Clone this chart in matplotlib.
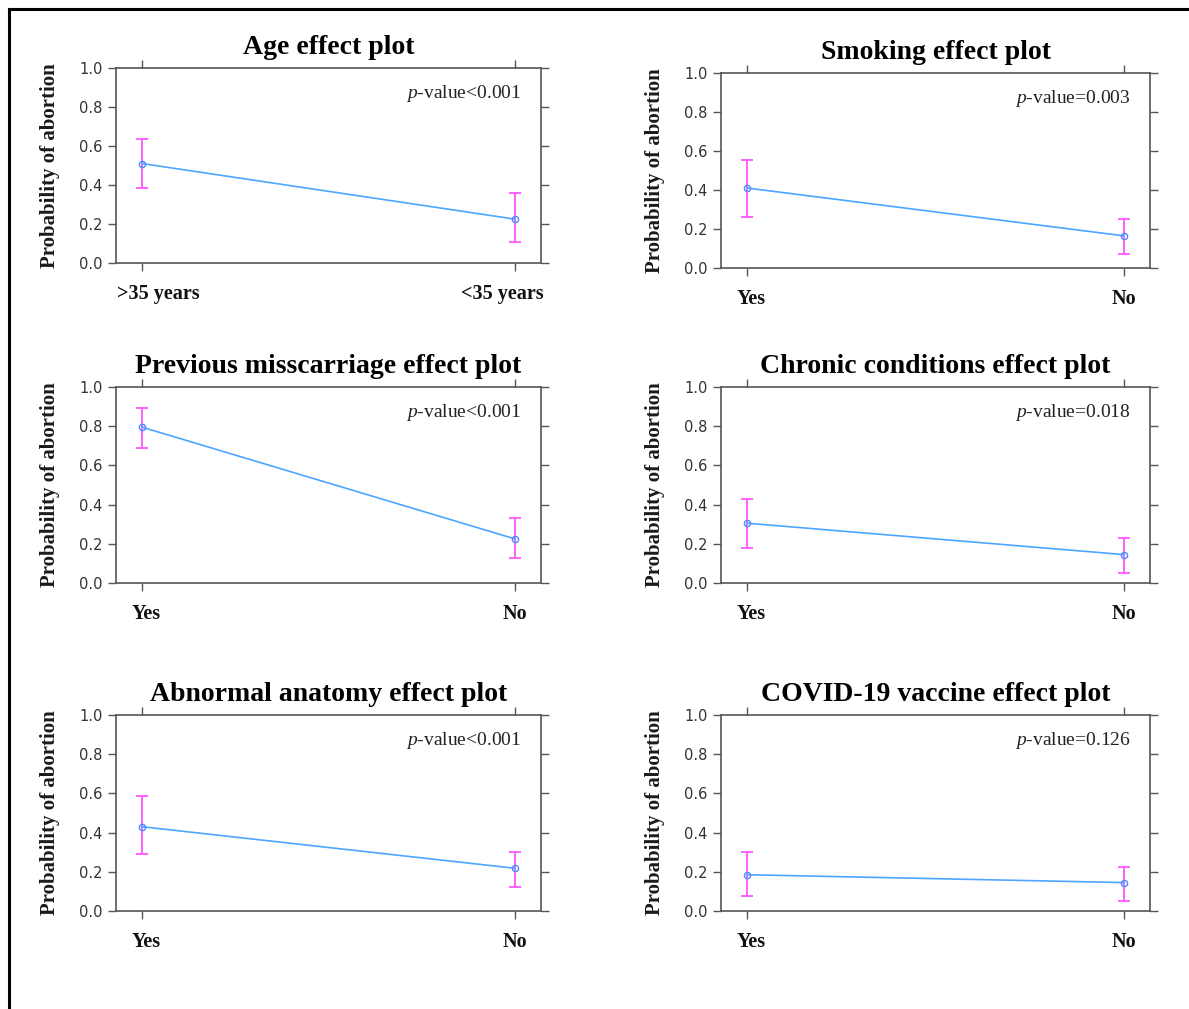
import numpy as np
import matplotlib
matplotlib.use("Agg")
import matplotlib.pyplot as plt
import matplotlib.transforms as mtrans
from matplotlib.lines import Line2D

# effect plot data: fitted probability with lower/upper CI
titles = ["Age effect plot", "Smoking effect plot",
          "Previous misscarriage effect plot", "Chronic conditions effect plot",
          "Abnormal anatomy effect plot", "COVID-19 vaccine effect plot"]
xlabels = [[">35 years", "<35 years"], ["Yes", "No"], ["Yes", "No"],
           ["Yes", "No"], ["Yes", "No"], ["Yes", "No"]]
pvalues = ["<0.001", "=0.003", "<0.001", "=0.018", "<0.001", "=0.126"]

fit = [[0.51, 0.225], [0.41, 0.165], [0.795, 0.225],
       [0.305, 0.145], [0.43, 0.218], [0.185, 0.145]]
lower = [[0.385, 0.11], [0.26, 0.07], [0.69, 0.13],
         [0.18, 0.05], [0.29, 0.125], [0.075, 0.05]]
upper = [[0.635, 0.36], [0.555, 0.25], [0.895, 0.33],
         [0.43, 0.23], [0.585, 0.30], [0.30, 0.225]]

W, H = 1189, 1009
# axes boxes in pixels: left, top, right, bottom
boxes = [(116, 68, 541, 263), (721, 73, 1150, 268),
         (116, 387, 541, 583), (721, 387, 1150, 583),
         (116, 715, 541, 911), (721, 715, 1150, 911)]

SERIF = ["Liberation Serif", "DejaVu Serif"]
GRAY = "#555555"

plt.rcParams["mathtext.fontset"] = "custom"
plt.rcParams["mathtext.it"] = "Liberation Serif:italic"
plt.rcParams["mathtext.rm"] = "Liberation Serif"

fig = plt.figure(figsize=(W / 100, H / 100), dpi=100)

for i in range(6):
    l, t, r, b = boxes[i]
    ax = fig.add_axes([l / W, 1 - b / H, (r - l) / W, (b - t) / H])
    x = np.arange(2)
    y = np.array(fit[i])
    lo = y - np.array(lower[i])
    hi = np.array(upper[i]) - y
    ax.errorbar(x, y, yerr=[lo, hi], fmt="none", ecolor="#ff55ff",
                elinewidth=1.3, capsize=4, capthick=1.3, zorder=2)
    ax.plot(x, y, color="#4da6ff", lw=1.2, marker="o", ms=4.5,
            mfc="none", mec="#4d8cff", mew=1, zorder=3)
    ax.set_xlim(-0.07, 1.07)
    ax.set_ylim(0, 1)
    ax.set_yticks(np.arange(0, 1.01, 0.2))
    ax.set_yticklabels([f"{v:.1f}" for v in np.arange(0, 1.01, 0.2)])
    ax.set_xticks(x)
    ax.set_xticklabels(xlabels[i], fontfamily=SERIF, fontweight="bold",
                       fontsize=14.5, color="#111111")
    ax.tick_params(axis="y", which="both", direction="out", length=6,
                   color=GRAY, labelcolor="#333333", labelsize=10.5,
                   right=True, width=1)
    ax.tick_params(axis="x", direction="out", length=6, color=GRAY,
                   top=True, width=1, pad=9)
    # long labels are kept inside the box, short ones sit a bit right
    shifts = [16, -13] if i == 0 else [4, 0]
    for lab, dx in zip(ax.get_xticklabels(), shifts):
        lab.set_transform(lab.get_transform() +
                          mtrans.ScaledTranslation(dx / 100, 0, fig.dpi_scale_trans))
    for s in ax.spines.values():
        s.set_color(GRAY)
        s.set_linewidth(1.2)
    ax.set_ylabel("Probability of abortion", fontfamily=SERIF,
                  fontweight="bold", fontsize=15, color="#1a1a1a", labelpad=14)
    ax.set_title(titles[i], fontfamily=SERIF, fontweight="bold",
                 fontsize=20, pad=10)
    ax.text(0.955, 0.87, r"$\mathit{p}$" + "-value" + pvalues[i],
            transform=ax.transAxes, ha="right", va="center",
            fontfamily=SERIF, fontsize=14, color="#222222")

# outer frame (top and left edges visible)
fig.add_artist(Line2D([9 / W, 1.01], [1 - 9 / H, 1 - 9 / H],
                      transform=fig.transFigure, color="black", lw=2.2))
fig.add_artist(Line2D([9 / W, 9 / W], [1 - 9 / H, -0.01],
                      transform=fig.transFigure, color="black", lw=2.2))

fig.savefig("out.png", dpi=100)
